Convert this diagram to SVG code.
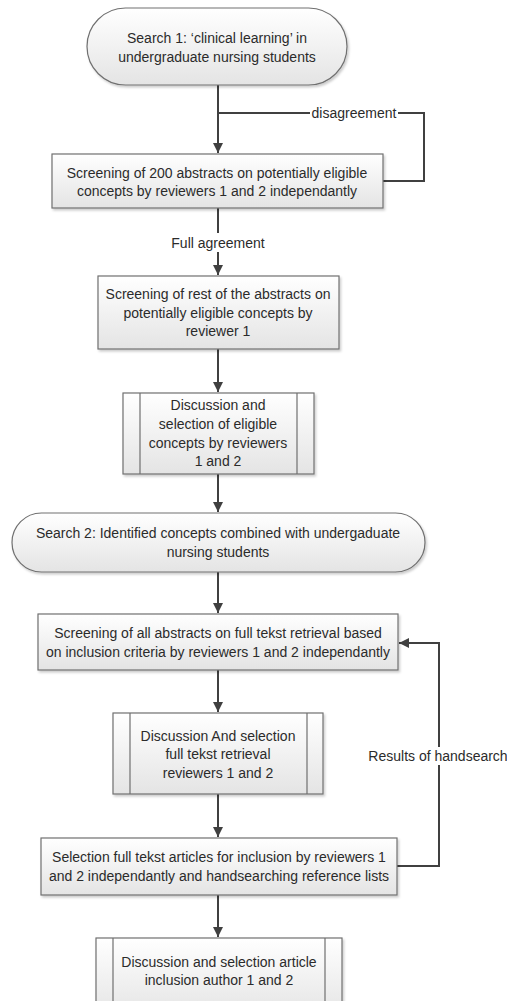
<svg xmlns="http://www.w3.org/2000/svg" width="507" height="1001" viewBox="0 0 507 1001">
<defs>
<linearGradient id="g" x1="0" y1="0" x2="0" y2="1">
<stop offset="0" stop-color="#ffffff"/>
<stop offset="1" stop-color="#e4e4e4"/>
</linearGradient>
<filter id="sh" x="-5%" y="-5%" width="110%" height="120%">
<feDropShadow dx="1.5" dy="2" stdDeviation="1.2" flood-color="#000" flood-opacity="0.2"/>
</filter>
<marker id="ah" viewBox="0 0 10 10" refX="10" refY="5" markerWidth="5" markerHeight="5" orient="auto" markerUnits="strokeWidth">
<path d="M0,0 L10,5 L0,10 z" fill="#404040"/>
</marker>
</defs>
<style>
.n{fill:url(#g);stroke:#707070;stroke-width:1.2;filter:url(#sh)}
.il{stroke:#707070;stroke-width:1.2;fill:none}
.c{stroke:#404040;stroke-width:2;fill:none}
.a{marker-end:url(#ah)}
text{font-family:"Liberation Sans",Arial,sans-serif;font-size:14px;fill:#2b2b2b;text-anchor:middle;dominant-baseline:central}
.lb{fill:#fff}
</style>
<rect width="507" height="1001" fill="#fff"/>
<g id="connectors">
<path class="c a" d="M218,85 V153"/>
<path class="c" d="M218,113 H424 V181 H383"/>
<rect class="lb" x="310" y="105" width="88" height="16"/>
<text x="354" y="113">disagreement</text>
<path class="c" d="M218,208 V233"/>
<text x="218" y="243">Full agreement</text>
<path class="c a" d="M218,252 V275"/>
<path class="c a" d="M218,349 V392"/>
<path class="c a" d="M218,474 V512"/>
<path class="c a" d="M218,572 V613"/>
<path class="c a" d="M218,670 V712"/>
<path class="c a" d="M218,794 V837"/>
<path class="c a" d="M218,895 V937"/>
<path class="c a" d="M397,866 H439 V643 H399"/>
<rect class="lb" x="370" y="747" width="137" height="18"/>
<text x="438" y="756">Results of handsearch</text>
</g>
<g id="n1">
<rect class="n" x="87" y="8" width="260" height="77" rx="38.5"/>
<text x="217" y="38">Search 1:  ‘clinical learning’ in</text>
<text x="217" y="57">undergraduate nursing students</text>
</g>
<g id="n2">
<rect class="n" x="52" y="154" width="331" height="54"/>
<text x="217" y="173">Screening of 200 abstracts on potentially eligible</text>
<text x="217" y="191">concepts by reviewers 1 and 2 independantly</text>
</g>
<g id="n3">
<rect class="n" x="98" y="276" width="241" height="73"/>
<text x="218" y="294">Screening of rest of the abstracts on</text>
<text x="218" y="313">potentially eligible concepts by</text>
<text x="218" y="331">reviewer 1</text>
</g>
<g id="n4">
<rect class="n" x="123" y="393" width="191" height="81"/>
<path class="il" d="M140,393 V474 M297,393 V474"/>
<text x="218" y="405">Discussion and</text>
<text x="218" y="424">selection of eligible</text>
<text x="218" y="443">concepts by reviewers</text>
<text x="218" y="461">1 and 2</text>
</g>
<g id="n5">
<rect class="n" x="12" y="513" width="413" height="59" rx="29.5"/>
<text x="218" y="533">Search 2:  Identified concepts combined with undergaduate</text>
<text x="218" y="552">nursing students</text>
</g>
<g id="n6">
<rect class="n" x="38" y="614" width="360" height="56"/>
<text x="218" y="633">Screening of all abstracts on full tekst retrieval  based</text>
<text x="218" y="652">on inclusion criteria by reviewers 1 and 2 independantly</text>
</g>
<g id="n7">
<rect class="n" x="113" y="713" width="210" height="81"/>
<path class="il" d="M130,713 V794 M307,713 V794"/>
<text x="218" y="736">Discussion And selection</text>
<text x="218" y="754">full tekst retrieval</text>
<text x="218" y="773">reviewers 1 and 2</text>
</g>
<g id="n8">
<rect class="n" x="41" y="838" width="356" height="57"/>
<text x="219" y="857">Selection full tekst articles for inclusion by reviewers 1</text>
<text x="219" y="876">and 2 independantly and handsearching reference lists</text>
</g>
<g id="n9">
<rect class="n" x="96" y="938" width="246" height="80"/>
<path class="il" d="M113,938 V1018 M325,938 V1018"/>
<text x="219" y="962">Discussion and selection article</text>
<text x="219" y="980">inclusion author 1 and 2</text>
</g>
</svg>
